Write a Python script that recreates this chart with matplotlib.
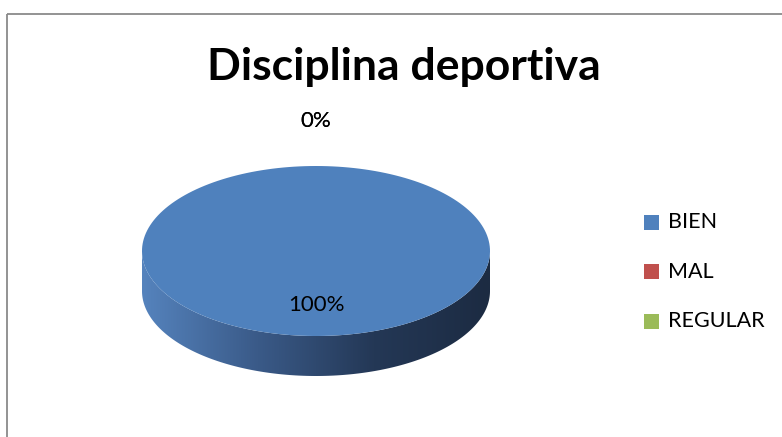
import numpy as np
import matplotlib
matplotlib.use("Agg")
import matplotlib.pyplot as plt
from matplotlib.patches import Polygon, Rectangle
from matplotlib.colors import LinearSegmentedColormap

# datos del grafico
categorias = ["BIEN", "MAL", "REGULAR"]
valores = [100, 0, 0]
colores = ["#4f81bd", "#c0504d", "#9bbb59"]
titulo = "Disciplina deportiva"

plt.rcParams['font.family'] = ['Lato', 'DejaVu Sans']

fig = plt.figure(figsize=(7.82, 4.37), dpi=100)
ax = fig.add_axes([0, 0, 1, 1])
ax.set_xlim(0, 782)
ax.set_ylim(437, 0)
ax.axis('off')

# marco del grafico
ax.add_patch(Rectangle((6.5, 13.5), 800, 500, fill=False, edgecolor='#8a8a8a', lw=1.3))

ax.text(404, 80, titulo, ha='center', va='baseline', fontsize=32, fontweight='bold')

# pastel 3D: centro, semiejes y grosor
cx, cy, a, b, h = 316, 251, 174, 85, 40
total = float(sum(valores))


def elipse(t0, t1, n=200):
    t = np.linspace(t0, t1, n)
    return cx + a * np.cos(t), cy - b * np.sin(t)


# lateral visible (mitad inferior) con degradado de izquierda a derecha
xs, ys = elipse(np.pi, 2 * np.pi)
lado = np.concatenate([np.column_stack([xs, ys]),
                       np.column_stack([xs[::-1], ys[::-1] + h])])
borde = Polygon(lado, closed=True, facecolor='none', edgecolor='none')
ax.add_patch(borde)
cmap = LinearSegmentedColormap.from_list('lado', ['#5583bd', '#3a5a88', '#243856', '#1c2b42'])
grad = np.linspace(0, 1, 256).reshape(1, -1)
im = ax.imshow(grad, cmap=cmap, extent=[cx - a, cx + a, cy + b + h, cy - 5],
               aspect='auto', zorder=1)
im.set_clip_path(borde)

# tapa superior: sectores a partir de las 12 en sentido horario
ang = np.pi / 2
etiquetas = []
for v, c in zip(valores, colores):
    frac = v / total
    t1 = ang - 2 * np.pi * frac
    if frac > 0:
        px, py = elipse(ang, t1)
        pts = np.column_stack([px, py])
        if frac < 1:
            pts = np.vstack([[cx, cy], pts])
        ax.add_patch(Polygon(pts, closed=True, facecolor=c, edgecolor='none', zorder=2))
    mid = (ang + t1) / 2
    r = 0.63 if frac > 0 else 1.53
    etiquetas.append((cx + r * a * np.cos(mid), cy - r * b * np.sin(mid), f"{v:.0f}%"))
    ang = t1

for x, y, s in etiquetas:
    ax.text(x, y, s, ha='center', va='center', fontsize=16, zorder=3)

# leyenda
for i, (cat, c) in enumerate(zip(categorias, colores)):
    y = 222 + i * 49.5
    ax.add_patch(Rectangle((644, y - 7.5), 15, 15, facecolor=c, edgecolor='none'))
    ax.text(668, y, cat, ha='left', va='center', fontsize=15.5)

fig.savefig('out.png', dpi=100)
